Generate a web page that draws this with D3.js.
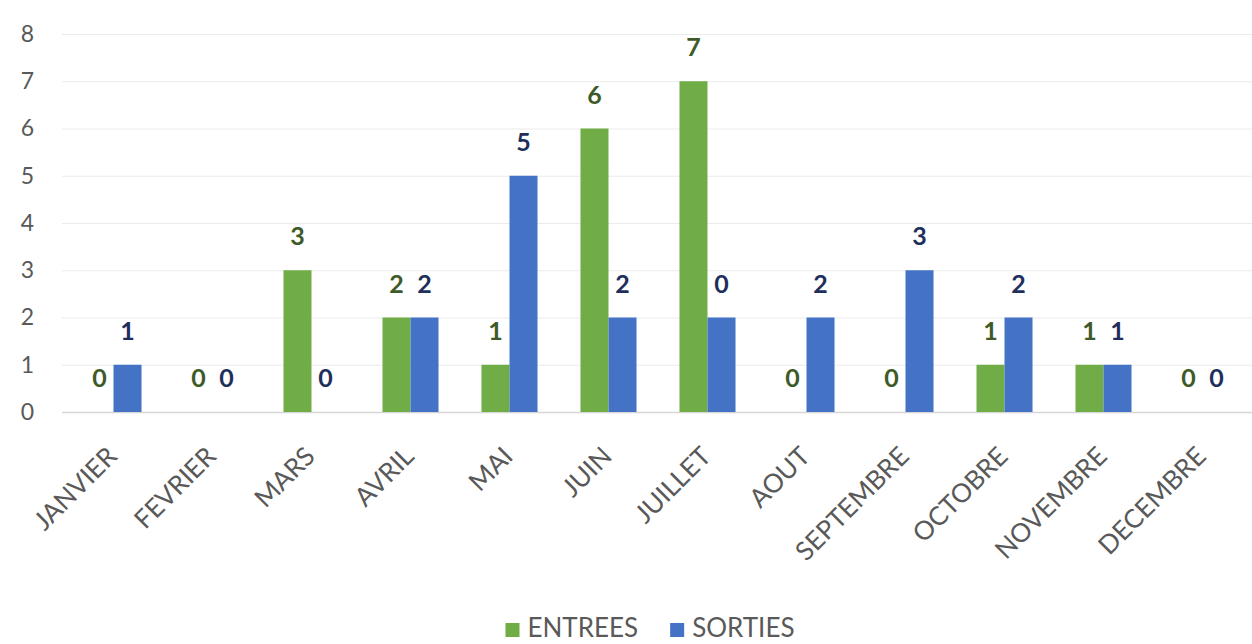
<!DOCTYPE html>
<html>
<head>
<meta charset="utf-8">
<script src="https://cdn.jsdelivr.net/npm/d3@7"></script>
<style>
  html, body { margin: 0; padding: 0; background: #ffffff; }
  svg { display: block; }
</style>
</head>
<body>
<svg id="chart" width="1252" height="644"></svg>
<script>
const months = ["JANVIER","FEVRIER","MARS","AVRIL","MAI","JUIN","JUILLET","AOUT","SEPTEMBRE","OCTOBRE","NOVEMBRE","DECEMBRE"];
const entrees = [0,0,3,2,1,6,7,0,0,1,1,0];
const sorties = [1,0,0,2,5,2,2,2,3,2,1,0];
const entreesLabels = ["0","0","3","2","1","6","7","0","0","1","1","0"];
const sortiesLabels = ["1","0","0","2","5","2","0","2","3","2","1","0"];
const seriesNames = ["ENTREES","SORTIES"];
const yTicks = [0,1,2,3,4,5,6,7,8];

const barColors = ["#70ad47","#4472c4"];
const labelColors = ["#3e5a28","#1f2f5c"];
const textGray = "#595959";
const font = "Lato, 'Open Sans', sans-serif";

const svg = d3.select("#chart");

const x0 = d3.scaleBand().domain(months).range([64, 1252]).paddingInner(0.434).paddingOuter(0.217);
const x1 = d3.scaleBand().domain(seriesNames).range([0, x0.bandwidth()]);
const y = d3.scaleLinear().domain([0, 8]).range([412, 34]);

// gridlines + y labels
const yAxis = d3.axisLeft(y).tickValues(yTicks).tickSize(-(1252 - 62)).tickPadding(28).tickFormat(d3.format("d"));
const gy = svg.append("g").attr("transform", "translate(62,0)").call(yAxis);
gy.select(".domain").remove();
gy.selectAll(".tick line").attr("stroke", d => d === 0 ? "#d6d6d6" : "#ebebeb").attr("stroke-width", d => d === 0 ? 1.5 : 1.2);
gy.selectAll(".tick text").attr("fill", textGray).style("font-family", font).style("font-size", "23px");

const series = [
  { name: seriesNames[0], values: entrees, labels: entreesLabels },
  { name: seriesNames[1], values: sorties, labels: sortiesLabels }
];

series.forEach((s, si) => {
  const g = svg.append("g");
  g.selectAll("rect").data(s.values).join("rect")
    .attr("x", (d, i) => x0(months[i]) + x1(s.name))
    .attr("y", d => y(d))
    .attr("width", x1.bandwidth())
    .attr("height", d => y(0) - y(d))
    .attr("fill", barColors[si]);
  g.selectAll("text").data(s.values).join("text")
    .attr("x", (d, i) => x0(months[i]) + x1(s.name) + x1.bandwidth() / 2)
    .attr("y", d => y(d) - 25)
    .attr("text-anchor", "middle")
    .attr("fill", labelColors[si])
    .style("font-family", font)
    .style("font-weight", "bold")
    .style("font-size", "25px")
    .text((d, i) => s.labels[i]);
});

// x labels
const gx = svg.append("g");
gx.selectAll("text").data(months).join("text")
  .attr("transform", d => `translate(${x0(d) + x0.bandwidth() / 2 + 5},458) rotate(-45)`)
  .attr("text-anchor", "end")
  .attr("fill", textGray)
  .style("font-family", font)
  .style("font-size", "26px")
  .text(d => d);

// legend
const legend = svg.append("g");
const items = legend.selectAll("g").data(seriesNames).join("g");
items.append("rect").attr("width", 14).attr("height", 14).attr("y", 623).attr("fill", (d, i) => barColors[i]);
items.append("text").attr("x", 22).attr("y", 637).attr("fill", textGray)
  .style("font-family", font).style("font-size", "26px").text(d => d);
const widths = [];
items.each(function() { widths.push(this.getBBox().width); });
const gap = 32;
const total = d3.sum(widths) + gap * (widths.length - 1);
let start = 650 - total / 2;
items.attr("transform", (d, i) => { const t = `translate(${start},0)`; start += widths[i] + gap; return t; });
</script>
</body>
</html>
